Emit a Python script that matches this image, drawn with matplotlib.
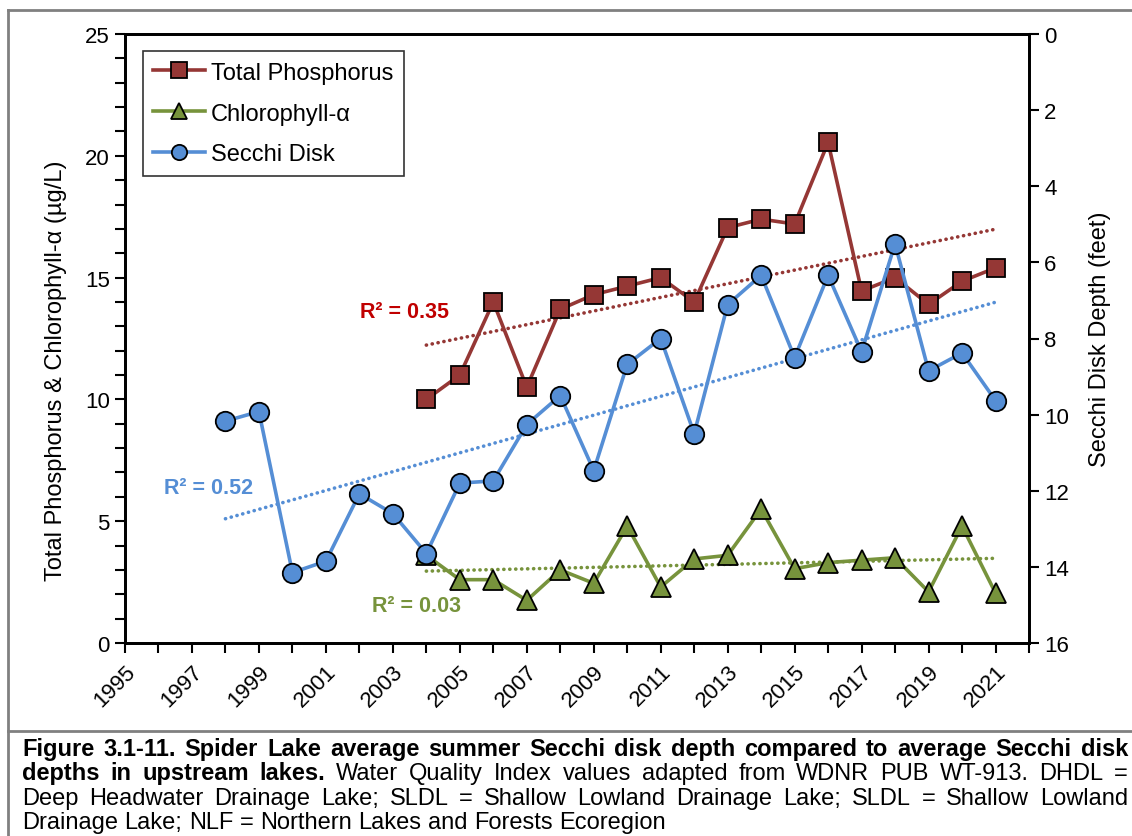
import matplotlib
matplotlib.use("Agg")
import matplotlib.pyplot as plt
from matplotlib.lines import Line2D
import numpy as np

plt.rcParams['font.family'] = ['Liberation Sans', 'DejaVu Sans']

# data
tp_years = np.arange(2004, 2022)
tp_vals = [10.0, 11.0, 14.0, 10.5, 13.7, 14.3, 14.65, 15.0, 14.0,
           17.05, 17.4, 17.2, 20.55, 14.45, 15.0, 13.9, 14.85, 15.4]

chl_years = np.arange(2004, 2022)
chl_vals = [3.6, 2.6, 2.6, 1.75, 3.0, 2.45, 4.8, 2.3, 3.45,
            3.6, 5.5, 3.05, 3.3, 3.4, 3.5, 2.1, 4.8, 2.05]

secchi_years = np.arange(1998, 2022)
secchi_ft = [10.17, 9.92, 14.15, 13.85, 12.08, 12.6, 13.65, 11.8, 11.74,
             10.26, 9.5, 11.47, 8.68, 8.0, 10.5, 7.11, 6.34, 8.5,
             6.34, 8.35, 5.51, 8.85, 8.38, 9.63]

r2_labels = ["R² = 0.35", "R² = 0.52", "R² = 0.03"]
year_ticks = np.arange(1995, 2023)

TP_C = '#953735'
CHL_C = '#77933C'
SEC_C = '#558ED5'

fig = plt.figure(figsize=(11.32, 8.37), dpi=100)
ax = fig.add_axes([125/1132, 1-644/837, (1029-125)/1132, (644-35)/837])
ax2 = ax.twinx()

lw = 2.6
mew = 1.3
ax.plot(tp_years, tp_vals, color=TP_C, lw=lw, marker='s', ms=13,
        mfc=TP_C, mec='black', mew=mew, zorder=3)
ax.plot(chl_years, chl_vals, color=CHL_C, lw=lw, marker='^', ms=14,
        mfc=CHL_C, mec='black', mew=mew, zorder=3)
ax2.plot(secchi_years, secchi_ft, color=SEC_C, lw=lw, marker='o', ms=14,
         mfc=SEC_C, mec='black', mew=mew, zorder=3)

# linear trendlines
dots = (0, (0.05, 1.6))
def trend(a, x, y, c):
    p = np.polyfit(x, y, 1)
    a.plot(x, np.polyval(p, x), color=c, lw=2.6, ls=dots,
           dash_capstyle='round', zorder=2)

trend(ax, tp_years, tp_vals, TP_C)
trend(ax, chl_years, chl_vals, CHL_C)
trend(ax2, secchi_years, secchi_ft, SEC_C)

ax.text(2003.35, 13.6, r2_labels[0], color='#C00000', fontsize=15.5,
        fontweight='bold', ha='center', va='center')
ax.text(1997.5, 6.4, r2_labels[1], color=SEC_C, fontsize=15.5,
        fontweight='bold', ha='center', va='center')
ax.text(2003.7, 1.55, r2_labels[2], color=CHL_C, fontsize=15.5,
        fontweight='bold', ha='center', va='center')

# axes
ax.set_xlim(1995, 2022)
ax.set_ylim(0, 25)
ax2.set_ylim(16, 0)
ax.set_xticks(year_ticks)
ax.set_xticklabels([str(y) if y % 2 == 1 else '' for y in year_ticks],
                   rotation=45, ha='right', rotation_mode='anchor')
ax.set_yticks(np.arange(0, 26, 5))
ax.set_yticks(np.arange(0, 26, 1), minor=True)
ax2.set_yticks(np.arange(0, 17, 2))
ax.tick_params(axis='both', which='both', direction='out', length=7,
               width=1.5, labelsize=16, pad=4)
ax.tick_params(axis='x', pad=6)
ax2.tick_params(axis='y', direction='out', length=7, width=1.5,
                labelsize=16, pad=4)
for a in (ax, ax2):
    for s in a.spines.values():
        s.set_linewidth(2)

ax.set_ylabel('Total Phosphorus & Chlorophyll-α (µg/L)', fontsize=17)
ax.yaxis.set_label_coords(-0.064, 0.448)
ax2.set_ylabel('Secchi Disk Depth (feet)', fontsize=17, labelpad=14)

handles = [
    Line2D([], [], color=TP_C, lw=lw, marker='s', ms=11, mfc=TP_C,
           mec='black', mew=mew),
    Line2D([], [], color=CHL_C, lw=lw, marker='^', ms=12, mfc=CHL_C,
           mec='black', mew=mew),
    Line2D([], [], color=SEC_C, lw=lw, marker='o', ms=11, mfc=SEC_C,
           mec='black', mew=mew),
]
leg = ax2.legend(handles, ['Total Phosphorus', 'Chlorophyll-α', 'Secchi Disk'],
                 loc='upper left', bbox_to_anchor=(0.0195, 0.972),
                 fontsize=17, frameon=True, fancybox=False, edgecolor='black',
                 handlelength=2.2, handletextpad=0.25, labelspacing=0.8,
                 borderpad=0.45, borderaxespad=0)
leg.get_frame().set_linewidth(1.2)
leg.set_zorder(10)

# border lines of the figure cell
gray = '#808080'
fig.add_artist(Line2D([8/1132, 1], [1-11/837, 1-11/837], color=gray, lw=2,
                      transform=fig.transFigure))
fig.add_artist(Line2D([8/1132, 8/1132], [0, 1-11/837], color=gray, lw=2,
                      transform=fig.transFigure))
fig.add_artist(Line2D([8/1132, 1], [1-732/837, 1-732/837], color=gray, lw=2,
                      transform=fig.transFigure))

# caption, justified
caption = [
    [("Figure 3.1-11. Spider Lake average summer Secchi disk depth compared to average Secchi disk", True)],
    [("depths in upstream lakes.", True),
     (" Water Quality Index values adapted from WDNR PUB WT-913. DHDL =", False)],
    [("Deep Headwater Drainage Lake; SLDL = Shallow Lowland Drainage Lake; SLDL = Shallow Lowland", False)],
    [("Drainage Lake; NLF = Northern Lakes and Forests Ecoregion", False)],
]
renderer = fig.canvas.get_renderer()
x0, x1 = 22, 1128
base = [756, 780.5, 805, 829.5]
for li, segs in enumerate(caption):
    words = []
    for seg, bold in segs:
        for w in seg.split(' '):
            if w:
                words.append((w, bold))
    arts = []
    for w, bold in words:
        t = fig.text(0, 0, w, fontsize=17,
                     fontweight='bold' if bold else 'normal',
                     va='baseline', ha='left')
        arts.append(t)
    widths = [t.get_window_extent(renderer).width for t in arts]
    if li < len(caption) - 1:
        gap = (x1 - x0 - sum(widths)) / (len(words) - 1)
    else:
        gap = 6.5
    x = x0
    for i, t in enumerate(arts):
        t.set_position((x / 1132, 1 - base[li] / 837))
        x += widths[i] + gap

fig.savefig('out.png', dpi=100)
